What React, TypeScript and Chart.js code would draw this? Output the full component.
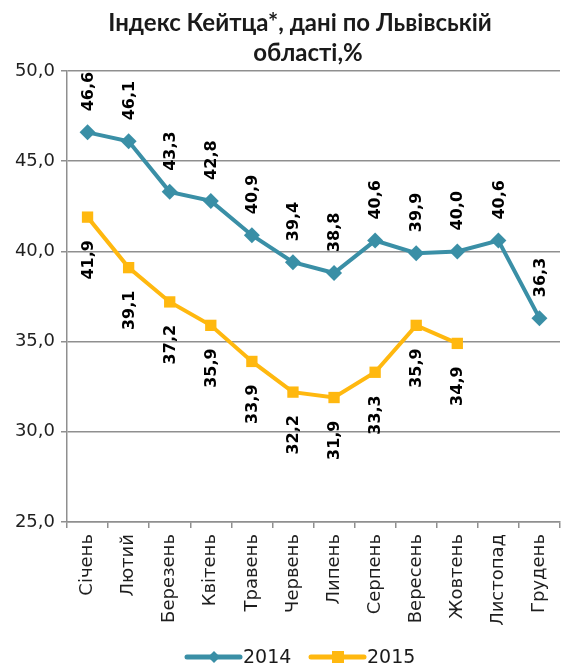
import React, { useEffect, useRef } from "react";
import { Chart, registerables } from "chart.js";

Chart.register(...registerables);

const months = [
  "Січень", "Лютий", "Березень", "Квітень", "Травень", "Червень",
  "Липень", "Серпень", "Вересень", "Жовтень", "Листопад", "Грудень",
];
const values2014 = [46.6, 46.1, 43.3, 42.8, 40.9, 39.4, 38.8, 40.6, 39.9, 40.0, 40.6, 36.3];
const values2015 = [41.9, 39.1, 37.2, 35.9, 33.9, 32.2, 31.9, 33.3, 35.9, 34.9, null, null];
const seriesNames = ["2014", "2015"];
const titleLines = ["Індекс Кейтца*, дані по Львівській", "області,%"];

const TEAL = "#3a8fa6";
const GOLD = "#ffb80f";
const GRID = "#8f8f8f";
const FONT = "'DejaVu Sans', sans-serif";

const fmt = (v: number) => v.toFixed(1).replace(".", ",");

const titlePlugin = {
  id: "customTitle",
  afterDraw(chart: any) {
    const ctx = chart.ctx;
    ctx.save();
    ctx.fillStyle = "#1a1a1a";
    ctx.font = "bold 24px Lato, sans-serif";
    ctx.textAlign = "center";
    ctx.textBaseline = "middle";
    ctx.fillText(titleLines[0], 300, 23);
    ctx.fillText(titleLines[1], 308, 53);
    ctx.restore();
  },
};

const labelPlugin = {
  id: "rotLabels",
  afterDatasetsDraw(chart: any) {
    const ctx = chart.ctx;
    ctx.save();
    ctx.font = `bold 16px ${FONT}`;
    ctx.fillStyle = "#000";
    ctx.textBaseline = "middle";
    chart.data.datasets.forEach((ds: any, di: number) => {
      const meta = chart.getDatasetMeta(di);
      meta.data.forEach((pt: any, i: number) => {
        const v = ds.data[i];
        if (v == null) return;
        ctx.save();
        if (di === 0) {
          ctx.translate(pt.x + 1, pt.y - 21);
          ctx.rotate(-Math.PI / 2);
          ctx.textAlign = "left";
        } else {
          ctx.translate(pt.x + 1, pt.y + 23);
          ctx.rotate(-Math.PI / 2);
          ctx.textAlign = "right";
        }
        ctx.fillText(fmt(v), 0, 0);
        ctx.restore();
      });
    });
    ctx.restore();
  },
};

const legendPlugin = {
  id: "customLegend",
  afterDraw(chart: any) {
    const ctx = chart.ctx;
    const y = 657;
    const items = [
      { x: 187, color: TEAL, style: "diamond", name: seriesNames[0] },
      { x: 311, color: GOLD, style: "square", name: seriesNames[1] },
    ];
    ctx.save();
    items.forEach((it) => {
      ctx.strokeStyle = it.color;
      ctx.lineWidth = 5;
      ctx.lineCap = "round";
      ctx.beginPath();
      ctx.moveTo(it.x, y);
      ctx.lineTo(it.x + 53, y);
      ctx.stroke();
      ctx.fillStyle = it.color;
      const cx = it.x + 27;
      if (it.style === "diamond") {
        ctx.beginPath();
        ctx.moveTo(cx, y - 6);
        ctx.lineTo(cx + 6, y);
        ctx.lineTo(cx, y + 6);
        ctx.lineTo(cx - 6, y);
        ctx.closePath();
        ctx.fill();
      } else {
        ctx.fillRect(cx - 6, y - 6, 12, 12);
      }
      ctx.fillStyle = "#1a1a1a";
      ctx.font = `19px ${FONT}`;
      ctx.textAlign = "left";
      ctx.textBaseline = "middle";
      ctx.fillText(it.name, it.x + 56, y + 1);
    });
    ctx.restore();
  },
};

export default function App() {
  const ref = useRef<HTMLCanvasElement | null>(null);
  useEffect(() => {
    if (!ref.current) return;
    const chart = new Chart(ref.current, {
      type: "line",
      data: {
        labels: months,
        datasets: [
          {
            label: seriesNames[0],
            data: values2014,
            borderColor: TEAL,
            backgroundColor: TEAL,
            borderWidth: 4,
            pointStyle: "rectRot",
            pointRadius: 8,
            pointBorderWidth: 0,
            tension: 0,
          },
          {
            label: seriesNames[1],
            data: values2015,
            borderColor: GOLD,
            backgroundColor: GOLD,
            borderWidth: 4,
            pointStyle: "rect",
            pointRadius: 8,
            pointBorderWidth: 0,
            tension: 0,
          },
        ],
      },
      options: {
        responsive: false,
        animation: false,
        layout: { padding: { top: 71, left: 0, right: 0, bottom: 0 } },
        plugins: {
          legend: { display: false },
          title: { display: false },
          tooltip: { enabled: false },
        },
        scales: {
          x: {
            offset: true,
            grid: {
              offset: true,
              drawOnChartArea: false,
              drawTicks: true,
              tickLength: 6,
              color: GRID,
              lineWidth: 1.5,
            },
            border: { display: true, color: GRID, width: 1.5 },
            ticks: {
              minRotation: 90,
              maxRotation: 90,
              autoSkip: false,
              padding: 6,
              color: "#1f1f1f",
              font: { family: FONT, size: 18 },
            },
            afterFit(scale: any) {
              scale.height = 147;
            },
          },
          y: {
            min: 25,
            max: 50,
            ticks: {
              stepSize: 5,
              padding: 6,
              color: "#1f1f1f",
              font: { family: FONT, size: 18 },
              callback: (v: any) => fmt(Number(v)),
            },
            grid: {
              color: GRID,
              lineWidth: 1.5,
              drawTicks: true,
              tickLength: 6,
            },
            border: { display: true, color: GRID, width: 1.5 },
            afterFit(scale: any) {
              scale.width = 67;
            },
          },
        },
      },
      plugins: [titlePlugin, labelPlugin, legendPlugin],
    });
    return () => chart.destroy();
  }, []);
  return (
    <div style={{ position: "fixed", left: 0, top: 0, width: 568, height: 669, background: "#fff" }}>
      <canvas ref={ref} width={568} height={669} style={{ display: "block" }} />
    </div>
  );
}
